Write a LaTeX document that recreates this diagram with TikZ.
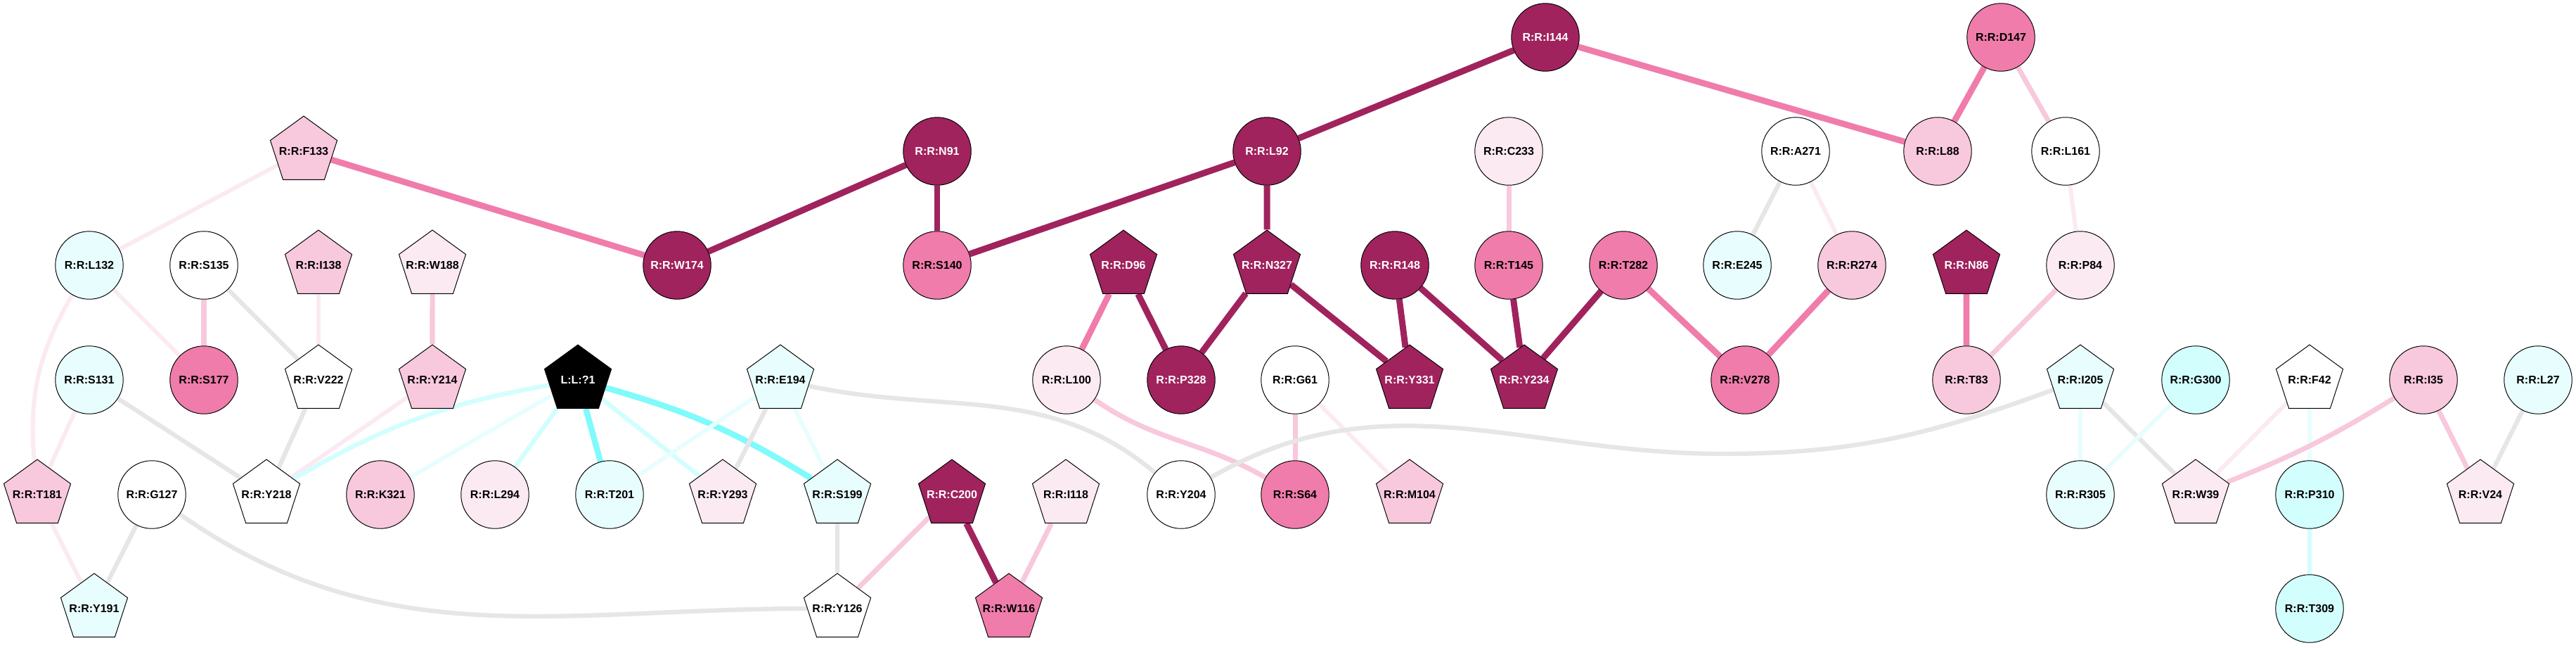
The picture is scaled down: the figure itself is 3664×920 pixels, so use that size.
\documentclass[tikz,border=0pt]{standalone}
\usepackage{fontspec}
\setmainfont{Liberation Sans}
\usetikzlibrary{shapes.geometric,backgrounds}
\definecolor{cdark}{HTML}{A0235D}
\definecolor{cmid}{HTML}{F07CAB}
\definecolor{clight}{HTML}{F8C8DC}
\definecolor{cpale}{HTML}{FBEAF2}
\definecolor{ccyan}{HTML}{80FAFA}
\definecolor{clcyan}{HTML}{D2FEFE}
\definecolor{cpcyan}{HTML}{E8FEFE}
\definecolor{cgrey}{HTML}{E6E6E6}
\tikzset{
	res/.style={draw=black, line width=0.55pt, inner sep=0pt,
			font=\bfseries\fontsize{9.1}{10}\selectfont},
	circ/.style={res, circle, minimum size=1.93cm},
	pent/.style={res, regular polygon, regular polygon sides=5, minimum size=2cm,
			inner xsep=-16pt},
	inv/.style={text=white},
	edark/.style={draw=cdark, line width=5.1pt},
	emid/.style={draw=cmid, line width=5pt},
	elight/.style={draw=clight, line width=4pt},
	epale/.style={draw=cpale, line width=3.4pt},
	egrey/.style={draw=cgrey, line width=3.6pt},
	ecyan/.style={draw=ccyan, line width=4.8pt},
	elcyan/.style={draw=clcyan, line width=3.6pt},
	epcyan/.style={draw=cpcyan, line width=3.4pt}
}

\begin{document}
\begin{tikzpicture}[x=0.02cm, y=0.02cm]
        \useasboundingbox (0, 0) rectangle (3664, -920);
        \node[circ, fill=cdark, inv] (I144) at (2198, -53) {R:R:I144};
        \node[circ, fill=cmid] (D147) at (2846, -53) {R:R:D147};
        \node[pent, fill=clight] (F133) at (432, -215) {R:R:F133};
        \node[circ, fill=cdark, inv] (N91) at (1333, -215) {R:R:N91};
        \node[circ, fill=cdark, inv] (L92) at (1802, -215) {R:R:L92};
        \node[circ, fill=cpale] (C233) at (2146, -215) {R:R:C233};
        \node[circ, fill=white] (A271) at (2554, -215) {R:R:A271};
        \node[circ, fill=clight] (L88) at (2756, -215) {R:R:L88};
        \node[circ, fill=white] (L161) at (2938, -215) {R:R:L161};
        \node[circ, fill=cpcyan] (L132) at (127, -377) {R:R:L132};
        \node[circ, fill=white] (S135) at (290, -377) {R:R:S135};
        \node[pent, fill=clight] (I138) at (453, -377) {R:R:I138};
        \node[pent, fill=cpale] (W188) at (615, -377) {R:R:W188};
        \node[circ, fill=cdark, inv] (W174) at (963, -377) {R:R:W174};
        \node[circ, fill=cmid] (S140) at (1333, -377) {R:R:S140};
        \node[pent, fill=cdark, inv] (D96) at (1598, -377) {R:R:D96};
        \node[pent, fill=cdark, inv] (N327) at (1802, -377) {R:R:N327};
        \node[circ, fill=cdark, inv] (R148) at (1984, -377) {R:R:R148};
        \node[circ, fill=cmid] (T145) at (2146, -377) {R:R:T145};
        \node[circ, fill=cmid] (T282) at (2309, -377) {R:R:T282};
        \node[circ, fill=cpcyan] (E245) at (2471, -377) {R:R:E245};
        \node[circ, fill=clight] (R274) at (2634, -377) {R:R:R274};
        \node[pent, fill=cdark, inv] (N86) at (2797, -377) {R:R:N86};
        \node[circ, fill=cpale] (P84) at (2959, -377) {R:R:P84};
        \node[circ, fill=cpcyan] (S131) at (127, -540) {R:R:S131};
        \node[circ, fill=cmid] (S177) at (290, -540) {R:R:S177};
        \node[pent, fill=white] (V222) at (453, -540) {R:R:V222};
        \node[pent, fill=clight] (Y214) at (615, -540) {R:R:Y214};
        \node[pent, fill=black, inv] (L_1) at (822, -540) {L:L:?1};
        \node[pent, fill=cpcyan] (E194) at (1110, -540) {R:R:E194};
        \node[circ, fill=cpale] (L100) at (1517, -540) {R:R:L100};
        \node[circ, fill=cdark, inv] (P328) at (1680, -540) {R:R:P328};
        \node[circ, fill=white] (G61) at (1842, -540) {R:R:G61};
        \node[pent, fill=cdark, inv] (Y331) at (2005, -540) {R:R:Y331};
        \node[pent, fill=cdark, inv] (Y234) at (2168, -540) {R:R:Y234};
        \node[circ, fill=cmid] (V278) at (2482, -540) {R:R:V278};
        \node[circ, fill=clight] (T83) at (2797, -540) {R:R:T83};
        \node[pent, fill=cpcyan] (I205) at (2959, -540) {R:R:I205};
        \node[circ, fill=clcyan] (G300) at (3123, -540) {R:R:G300};
        \node[pent, fill=white] (F42) at (3285, -540) {R:R:F42};
        \node[circ, fill=clight] (I35) at (3447, -540) {R:R:I35};
        \node[circ, fill=cpcyan] (L27) at (3610, -540) {R:R:L27};
        \node[pent, fill=clight] (T181) at (53, -703) {R:R:T181};
        \node[circ, fill=white] (G127) at (216, -703) {R:R:G127};
        \node[pent, fill=white] (Y218) at (379, -703) {R:R:Y218};
        \node[circ, fill=clight] (K321) at (541, -703) {R:R:K321};
        \node[circ, fill=cpale] (L294) at (704, -703) {R:R:L294};
        \node[circ, fill=cpcyan] (T201) at (867, -703) {R:R:T201};
        \node[pent, fill=cpale] (Y293) at (1028, -703) {R:R:Y293};
        \node[pent, fill=cpcyan] (S199) at (1191, -703) {R:R:S199};
        \node[pent, fill=cdark, inv] (C200) at (1354, -703) {R:R:C200};
        \node[pent, fill=cpale] (I118) at (1516, -703) {R:R:I118};
        \node[circ, fill=white] (Y204) at (1680, -703) {R:R:Y204};
        \node[circ, fill=cmid] (S64) at (1842, -703) {R:R:S64};
        \node[pent, fill=clight] (M104) at (2005, -703) {R:R:M104};
        \node[circ, fill=cpcyan] (R305) at (2959, -703) {R:R:R305};
        \node[pent, fill=cpale] (W39) at (3123, -703) {R:R:W39};
        \node[circ, fill=clcyan] (P310) at (3285, -703) {R:R:P310};
        \node[pent, fill=cpale] (V24) at (3528, -703) {R:R:V24};
        \node[pent, fill=cpcyan] (Y191) at (134, -865) {R:R:Y191};
        \node[pent, fill=white] (Y126) at (1191, -865) {R:R:Y126};
        \node[pent, fill=cmid] (W116) at (1435, -865) {R:R:W116};
        \node[circ, fill=clcyan] (T309) at (3285, -865) {R:R:T309};
        \coordinate (dip) at (2450, -645);
        \begin{scope}[on background layer]
        \draw[epale] (F133) -- (L132);
        \draw[emid] (F133) -- (W174);
        \draw[epale] (L132) -- (S177);
        \draw[epale] (L132) to[out=-120, in=95] (T181);
        \draw[elight] (S135) -- (S177);
        \draw[egrey] (S135) -- (V222);
        \draw[epale] (I138) -- (V222);
        \draw[elight] (W188) -- (Y214);
        \draw[epale] (S131) -- (T181);
        \draw[egrey] (S131) -- (Y218);
        \draw[egrey] (V222) -- (Y218);
        \draw[epale] (Y214) -- (Y218);
        \draw[epale] (T181) -- (Y191);
        \draw[egrey] (G127) -- (Y191);
        \draw[egrey] (G127) to[out=-35, in=180] (Y126);
        \draw[elcyan] (L_1) to[bend right=10] (Y218);
        \draw[epcyan] (L_1) -- (K321);
        \draw[elcyan] (L_1) -- (L294);
        \draw[ecyan] (L_1) -- (T201);
        \draw[elcyan] (L_1) -- (Y293);
        \draw[ecyan] (L_1) to[bend left=8] (S199);
        \draw[epcyan] (E194) -- (T201);
        \draw[egrey] (E194) -- (Y293);
        \draw[epcyan] (E194) -- (S199);
        \draw[egrey] (E194) to[out=-12, in=140] (Y204);
        \draw[egrey] (S199) -- (Y126);
        \draw[elight] (C200) -- (Y126);
        \draw[edark] (C200) -- (W116);
        \draw[elight] (I118) -- (W116);
        \draw[edark] (W174) -- (N91);
        \draw[edark] (N91) -- (S140);
        \draw[edark] (S140) -- (L92);
        \draw[edark] (L92) -- (I144);
        \draw[edark] (L92) -- (N327);
        \draw[emid] (D96) -- (L100);
        \draw[edark] (D96) -- (P328);
        \draw[edark] (N327) -- (P328);
        \draw[edark] (N327) -- (Y331);
        \draw[edark] (R148) -- (Y331);
        \draw[edark] (R148) -- (Y234);
        \draw[edark] (T145) -- (Y234);
        \draw[edark] (T282) -- (Y234);
        \draw[emid] (T282) -- (V278);
        \draw[emid] (R274) -- (V278);
        \draw[elight] (C233) -- (T145);
        \draw[egrey] (A271) -- (E245);
        \draw[epale] (A271) -- (R274);
        \draw[emid] (I144) -- (L88);
        \draw[emid] (D147) -- (L88);
        \draw[elight] (D147) -- (L161);
        \draw[epale] (L161) -- (P84);
        \draw[elight] (P84) -- (T83);
        \draw[emid] (N86) -- (T83);
        \draw[elight] (L100) to[out=-35, in=150] (S64);
        \draw[elight] (G61) -- (S64);
        \draw[epale] (G61) -- (M104);
        \draw[egrey] (Y204) to[out=30, in=180] (dip) to[out=0, in=200] (I205);
        \draw[epcyan] (I205) -- (R305);
        \draw[egrey] (I205) -- (W39);
        \draw[epcyan] (G300) -- (R305);
        \draw[epale] (F42) -- (W39);
        \draw[epcyan] (F42) -- (P310);
        \draw[elcyan] (P310) -- (T309);
        \draw[elight] (I35) to[bend left=5] (W39);
        \draw[elight] (I35) -- (V24);
        \draw[egrey] (L27) -- (V24);
        \end{scope}
\end{tikzpicture}
\end{document}
